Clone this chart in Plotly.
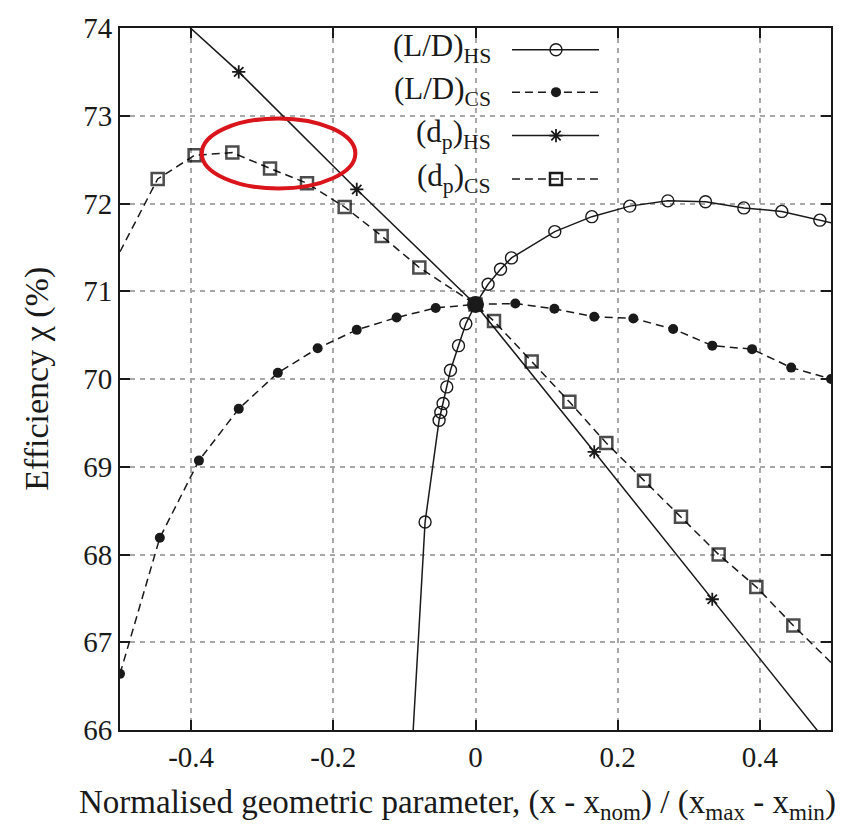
import plotly.graph_objects as go

# ---------------- data ----------------
ld_hs_x = [-0.0947, -0.0709, -0.0512, -0.0488, -0.0456, -0.0404, -0.0352, -0.0239, -0.0136, 0.0,
           0.0177, 0.0352, 0.0506, 0.1115, 0.1636, 0.2170, 0.2705, 0.3235, 0.3774, 0.4308, 0.4843, 0.538]
ld_hs_y = [65.00, 68.37, 69.53, 69.62, 69.72, 69.91, 70.10, 70.38, 70.63, 70.85,
           71.08, 71.25, 71.38, 71.68, 71.85, 71.97, 72.03, 72.02, 71.95, 71.91, 71.81, 71.71]

ld_cs_x = [-0.5, -0.444, -0.389, -0.333, -0.278, -0.222, -0.167, -0.111, -0.056, 0.0,
           0.056, 0.111, 0.167, 0.222, 0.278, 0.333, 0.389, 0.444, 0.5]
ld_cs_y = [66.64, 68.19, 69.07, 69.66, 70.07, 70.35, 70.56, 70.70, 70.81, 70.85,
           70.86, 70.80, 70.71, 70.69, 70.57, 70.38, 70.34, 70.13, 70.00]

dp_hs_x = [-0.5, -0.333, -0.167, 0.0, 0.167, 0.333, 0.5]
dp_hs_y = [74.73, 73.50, 72.16, 70.85, 69.17, 67.49, 65.80]

dp_cs_x = [-0.5, -0.447, -0.395, -0.342, -0.289, -0.237, -0.184, -0.132, -0.079, 0.0,
           0.026, 0.079, 0.132, 0.184, 0.237, 0.289, 0.342, 0.395, 0.447, 0.5]
dp_cs_y = [71.45, 72.28, 72.55, 72.58, 72.40, 72.23, 71.96, 71.63, 71.27, 70.85,
           70.66, 70.20, 69.74, 69.27, 68.84, 68.43, 68.00, 67.63, 67.19, 66.77]
# points drawn without a symbol (line ends beyond the frame)
dp_cs_nosym = [-0.5, 0.5]

nominal_x = [0.0]
nominal_y = [70.85]

x_ticks = [-0.4, -0.2, 0, 0.2, 0.4]
x_ticktext = ["-0.4", "-0.2", "0", "0.2", "0.4"]
y_ticks = [66, 67, 68, 69, 70, 71, 72, 73, 74]

legend_labels = ["(L/D)<sub>HS</sub>", "(L/D)<sub>CS</sub>",
                 "(d<sub>p</sub>)<sub>HS</sub>", "(d<sub>p</sub>)<sub>CS</sub>"]

x_title = "Normalised geometric parameter, (x - x<sub>nom</sub>) / (x<sub>max</sub> - x<sub>min</sub>)"
y_title = "Efficiency χ (%)"

# ---------------- style ----------------
INK = "#1a1a1a"
FONT = "Liberation Serif, Times New Roman, serif"
DASH = "8px,5px"

fig = go.Figure()

fig.add_trace(go.Scatter(
    x=ld_hs_x, y=ld_hs_y, mode="lines+markers",
    line=dict(color=INK, width=1.5),
    marker=dict(symbol="circle-open", size=12, color=INK, line=dict(width=1.4)),
    showlegend=False))

fig.add_trace(go.Scatter(
    x=ld_cs_x, y=ld_cs_y, mode="lines+markers",
    line=dict(color=INK, width=1.5, dash=DASH),
    marker=dict(symbol="circle", size=10, color=INK),
    showlegend=False))

fig.add_trace(go.Scatter(
    x=dp_hs_x, y=dp_hs_y, mode="lines+markers",
    line=dict(color=INK, width=1.5),
    marker=dict(symbol="asterisk-open", size=11, color=INK, line=dict(width=1.8, color=INK)),
    showlegend=False))

dp_cs_sizes = [0 if x in dp_cs_nosym else 12 for x in dp_cs_x]
fig.add_trace(go.Scatter(
    x=dp_cs_x, y=dp_cs_y, mode="lines+markers",
    line=dict(color=INK, width=1.5, dash=DASH),
    marker=dict(symbol="square-open", size=dp_cs_sizes, color="#000000", line=dict(width=2.5, color="#000000")),
    showlegend=False))

fig.add_trace(go.Scatter(
    x=nominal_x, y=nominal_y, mode="markers",
    marker=dict(symbol="circle", size=17, color=INK),
    showlegend=False))

# ---------------- custom legend (gnuplot style: text right, sample left->right) ----------------
row_y = [0.969, 0.9086, 0.8467, 0.7848]
text_right = 0.5246
samp_x0, samp_x1, samp_xm = 0.5513, 0.6737, 0.6132
styles = [
    dict(dash="solid", symbol="circle-open", size=12, lw=1.4),
    dict(dash=DASH, symbol="circle", size=10, lw=0),
    dict(dash="solid", symbol="asterisk-open", size=11, lw=1.8),
    dict(dash=DASH, symbol="square-open", size=12, lw=2.5),
]
shapes = [
    dict(type="rect", xref="paper", yref="paper", x0=0.361, x1=0.682, y0=0.7595, y1=1.0,
         fillcolor="white", line=dict(width=0), layer="between"),
]
annotations = []
for lab, yy, st in zip(legend_labels, row_y, styles):
    annotations.append(dict(text=lab, x=text_right, y=yy + 0.002, xref="paper", yref="paper",
                            xanchor="right", yanchor="middle", showarrow=False,
                            font=dict(family=FONT, size=31, color=INK)))
    shapes.append(dict(type="line", xref="paper", yref="paper", x0=samp_x0, x1=samp_x1,
                       y0=yy, y1=yy, line=dict(color=INK, width=1.5, dash=st["dash"])))
    fig.add_trace(go.Scatter(
        x=[samp_xm], y=[yy], xaxis="x2", yaxis="y2", mode="markers",
        marker=dict(symbol=st["symbol"], size=st["size"], color=INK,
                    line=dict(width=st["lw"], color=INK)),
        showlegend=False, hoverinfo="skip"))

# axis titles as annotations (placed like the reference)
annotations.append(dict(text=x_title, x=0.475, y=-0.1055, xref="paper", yref="paper",
                        xanchor="center", yanchor="middle", showarrow=False,
                        font=dict(family=FONT, size=33, color=INK)))
annotations.append(dict(text=y_title, x=-0.117, y=0.5, xref="paper", yref="paper",
                        xanchor="center", yanchor="middle", textangle=-90, showarrow=False,
                        font=dict(family=FONT, size=34, color=INK)))

# red highlight ellipse
shapes.append(dict(type="circle", xref="x", yref="y", x0=-0.385, x1=-0.169, y0=72.17, y1=72.97,
                   line=dict(color="#d9141b", width=4), layer="above"))

axis_common = dict(
    showline=True, linecolor=INK, linewidth=2, mirror="allticks",
    ticks="inside", ticklen=10, tickwidth=1.5, tickcolor=INK,
    showgrid=True, gridcolor="#a8a8a8", gridwidth=1.5, griddash="5px,5px",
    zeroline=False,
    tickfont=dict(family=FONT, size=29, color=INK),
)

fig.update_layout(
    width=860, height=831,
    margin=dict(l=120, r=29, t=19, b=101),
    paper_bgcolor="white", plot_bgcolor="white",
    showlegend=False,
    xaxis=dict(range=[-0.5, 0.5], tickvals=x_ticks, ticktext=x_ticktext, **axis_common),
    yaxis=dict(range=[66, 74], tickvals=y_ticks, **axis_common),
    xaxis2=dict(overlaying="x", range=[0, 1], visible=False),
    yaxis2=dict(overlaying="y", range=[0, 1], visible=False),
    shapes=shapes,
    annotations=annotations,
)

fig.write_html("out.html")
